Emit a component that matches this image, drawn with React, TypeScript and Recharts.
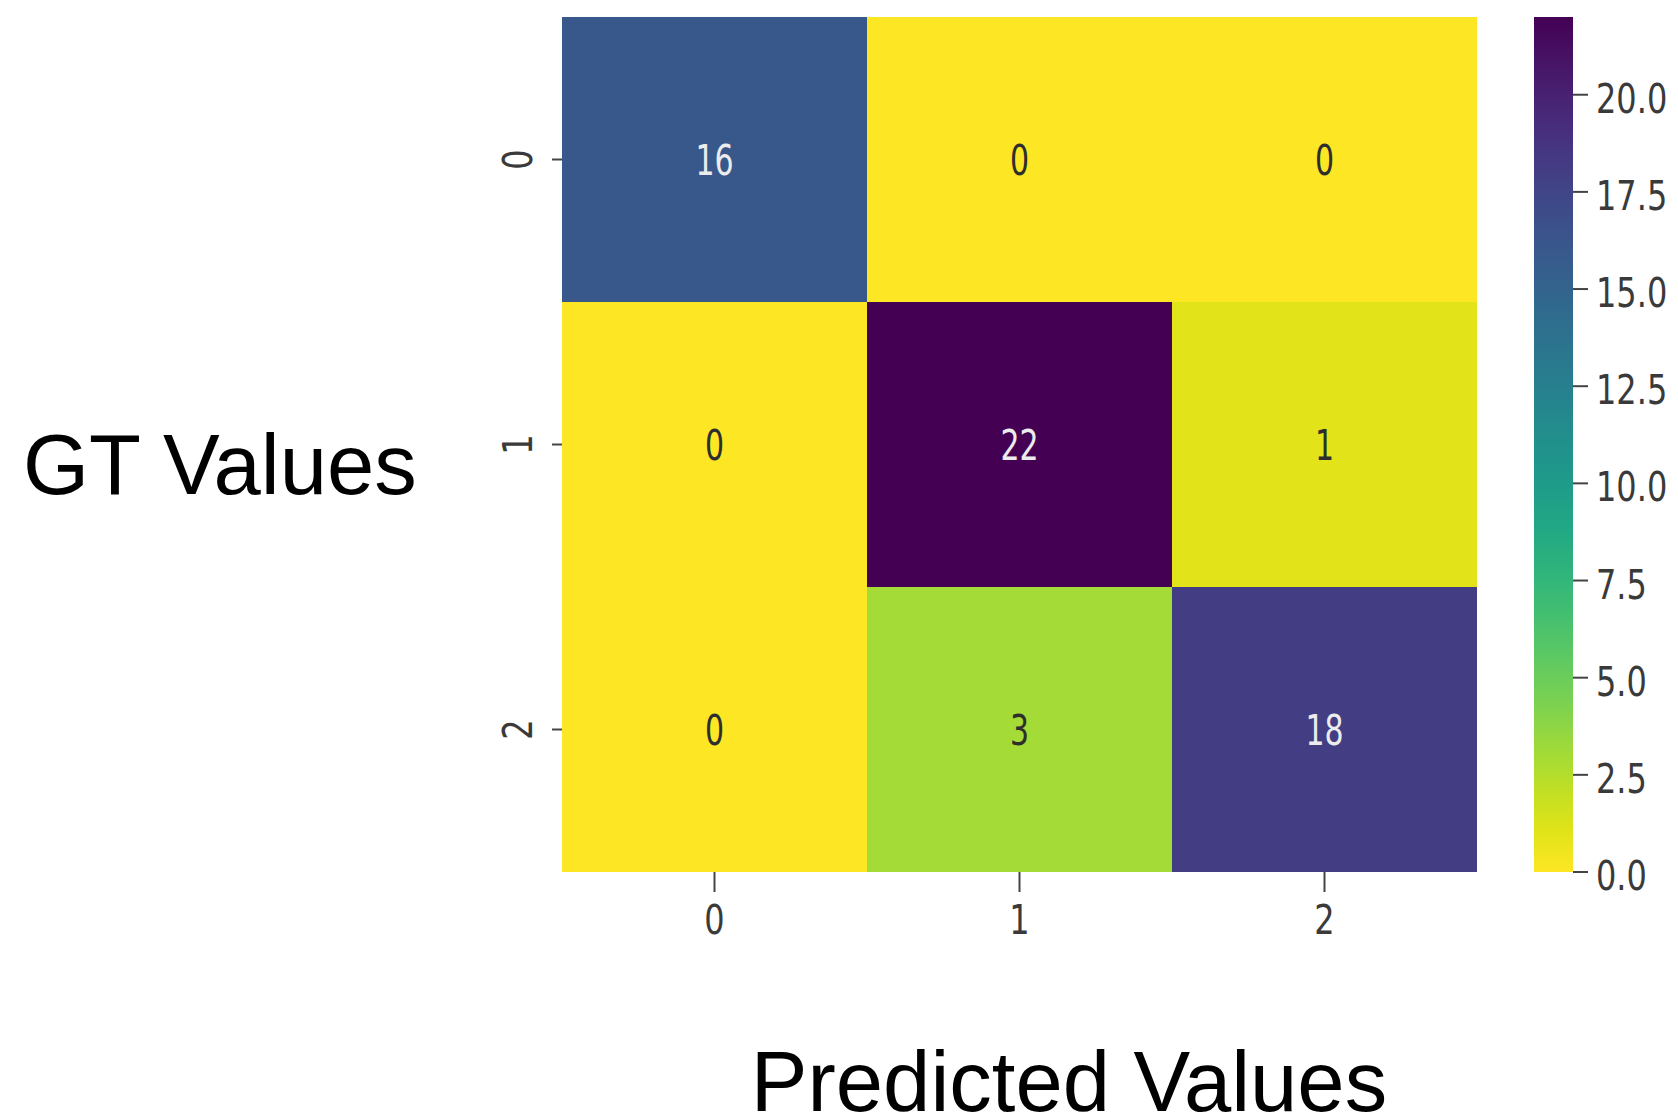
import React from 'react';
import { ScatterChart, Scatter, XAxis, YAxis, BarChart, Bar } from 'recharts';

// ---- data ----
const colLabels = [0, 1, 2];
const rowLabels = [0, 1, 2];
const row0 = [16, 0, 0];
const row1 = [0, 22, 1];
const row2 = [0, 3, 18];
const colorbarTicks = [0, 2.5, 5, 7.5, 10, 12.5, 15, 17.5, 20];
const V_MIN = 0;
const V_MAX = 22;
const xTitle = 'Predicted Values';
const yTitle = 'GT Values';

// viridis reference stops (matplotlib)
const VIRIDIS = [
  '#440154', '#471365', '#482475', '#463480', '#414487', '#3b528b', '#355f8d',
  '#2f6c8e', '#2a788e', '#25848e', '#21918c', '#1e9c89', '#22a884', '#2fb47c',
  '#44bf70', '#5ec962', '#7ad151', '#9bd93c', '#bddf26', '#dfe318', '#fde725',
];

const hex = (h: string) => [1, 3, 5].map((i) => parseInt(h.slice(i, i + 2), 16));
const viridis = (t: number) => {
  const tt = Math.max(0, Math.min(1, t)) * (VIRIDIS.length - 1);
  const i = Math.min(Math.floor(tt), VIRIDIS.length - 2);
  const f = tt - i;
  const a = hex(VIRIDIS[i]);
  const b = hex(VIRIDIS[i + 1]);
  const c = a.map((v, k) => Math.round(v + (b[k] - v) * f));
  return `rgb(${c[0]},${c[1]},${c[2]})`;
};
// reversed viridis: low = yellow, high = purple
const colorFor = (v: number) => viridis(1 - (v - V_MIN) / (V_MAX - V_MIN));

const matrix = [row0, row1, row2];
const cells = matrix.flatMap((row, r) => row.map((v, c) => ({ x: colLabels[c], y: rowLabels[r], value: v })));

// ---- layout ----
const W = 1678;
const H = 1118;
const PLOT_LEFT = 562;
const PLOT_RIGHT = 1477;
const PLOT_TOP = 17;
const PLOT_BOTTOM = 872;
const CELL_W = (PLOT_RIGHT - PLOT_LEFT) / colLabels.length;
const CELL_H = (PLOT_BOTTOM - PLOT_TOP) / rowLabels.length;
const TICK_COLOR = '#3a3a3a';
const TICK_FONT = "'DejaVu Sans', sans-serif";

const CellShape = (props: any) => {
  const { cx, cy, payload } = props;
  const v = payload.value;
  const light = v > (V_MAX - V_MIN) * 0.5;
  return (
    <g>
      <rect x={cx - CELL_W / 2} y={cy - CELL_H / 2} width={CELL_W} height={CELL_H} fill={colorFor(v)} />
      <g transform={`translate(${cx},${cy}) scale(1,1.4)`}>
        <text x={0} y={0} dy="0.36em" textAnchor="middle" fontFamily={TICK_FONT} fontSize={30} fill={light ? '#ececec' : '#2e2e2e'}>
          {v}
        </text>
      </g>
    </g>
  );
};

const XTick = (props: any) => {
  const { x, y, payload } = props;
  return (
    <g transform={`translate(${x},${y + 27}) scale(1,1.3)`}>
      <text x={0} y={0} dy="0.36em" textAnchor="middle" fontFamily={TICK_FONT} fontSize={32} fill={TICK_COLOR}>
        {payload.value}
      </text>
    </g>
  );
};

const YTick = (props: any) => {
  const { x, y, payload } = props;
  return (
    <g transform={`translate(${x - 35},${y}) rotate(-90) scale(1,1.3)`}>
      <text x={0} y={0} dy="0.36em" textAnchor="middle" fontFamily={TICK_FONT} fontSize={32} fill={TICK_COLOR}>
        {payload.value}
      </text>
    </g>
  );
};

const CbTick = (props: any) => {
  const { x, y, payload } = props;
  return (
    <g transform={`translate(${x + 8},${y + 3}) scale(1,1.3)`}>
      <text x={0} y={0} dy="0.36em" textAnchor="start" fontFamily={TICK_FONT} fontSize={32} fill={TICK_COLOR}>
        {Number(payload.value).toFixed(1)}
      </text>
    </g>
  );
};

const cbData = [{ name: 'cb', low: V_MIN, high: V_MAX }];

export default function App() {
  return (
    <div style={{ position: 'absolute', left: 0, top: 0, width: W, height: H, background: '#fff' }}>
      <div style={{ position: 'absolute', left: 0, top: 0 }}>
        <ScatterChart width={W} height={H} margin={{ top: PLOT_TOP, right: W - PLOT_RIGHT, bottom: 0, left: 0 }}>
          <XAxis
            type="number"
            dataKey="x"
            domain={[-0.5, 2.5]}
            allowDataOverflow
            ticks={colLabels}
            interval={0}
            height={H - PLOT_BOTTOM}
            axisLine={false}
            tickSize={20}
            tickMargin={0}
            tickLine={{ stroke: '#444', strokeWidth: 2 }}
            tick={<XTick />}
          />
          <YAxis
            type="number"
            dataKey="y"
            domain={[-0.5, 2.5]}
            allowDataOverflow
            reversed
            ticks={rowLabels}
            interval={0}
            width={PLOT_LEFT}
            axisLine={false}
            tickSize={10}
            tickMargin={0}
            tickLine={{ stroke: '#444', strokeWidth: 2 }}
            tick={<YTick />}
          />
          <Scatter data={cells} shape={<CellShape />} isAnimationActive={false} />
        </ScatterChart>
      </div>
      <div style={{ position: 'absolute', left: 1534, top: 0 }}>
        <BarChart
          width={144}
          height={H}
          data={cbData}
          margin={{ top: PLOT_TOP, right: 0, bottom: H - PLOT_BOTTOM, left: 0 }}
          barCategoryGap={0}
          barGap={0}
        >
          <defs>
            <linearGradient id="cbGrad" x1="0" y1="0" x2="0" y2="1">
              {VIRIDIS.map((c, i) => (
                <stop key={i} offset={`${(i / (VIRIDIS.length - 1)) * 100}%`} stopColor={c} />
              ))}
            </linearGradient>
          </defs>
          <XAxis dataKey="name" hide />
          <YAxis
            orientation="right"
            type="number"
            domain={[V_MIN, V_MAX]}
            allowDataOverflow
            ticks={colorbarTicks}
            interval={0}
            width={105}
            axisLine={false}
            tickSize={15}
            tickMargin={0}
            tickLine={{ stroke: '#444', strokeWidth: 2 }}
            tick={<CbTick />}
          />
          <Bar dataKey={(d: any) => [d.low, d.high]} fill="url(#cbGrad)" isAnimationActive={false} />
        </BarChart>
      </div>
      <svg width={W} height={H} style={{ position: 'absolute', left: 0, top: 0, pointerEvents: 'none' }}>
        <text x={23} y={494} fontFamily="'Liberation Sans', Arial, sans-serif" fontSize={85} fill="#000">
          {yTitle}
        </text>
        <text x={1069} y={1111} textAnchor="middle" fontFamily="'Liberation Sans', Arial, sans-serif" fontSize={85} fill="#000">
          {xTitle}
        </text>
      </svg>
    </div>
  );
}
